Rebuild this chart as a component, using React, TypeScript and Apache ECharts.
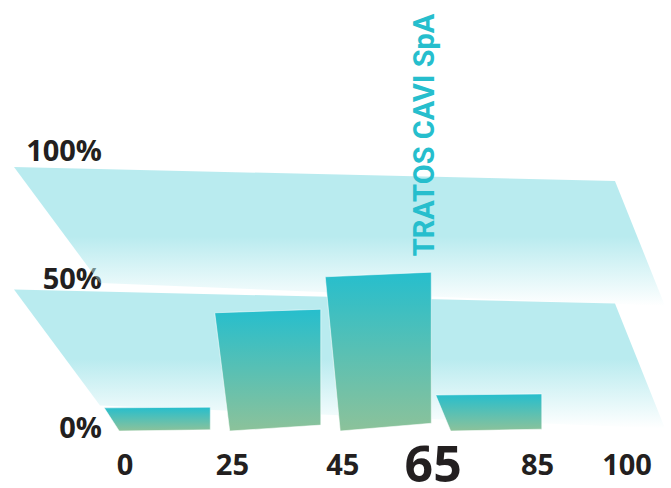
import React, { useEffect, useRef } from "react";
import * as echarts from "echarts";

// ---- data ----
const xTickLabels = ["0", "25", "45", "65", "85", "100"];
const highlightTick = "65";
const bandCategories = ["0–25", "25–45", "45–65", "65–85"];
const bandShares = [9, 46, 60, 14];
const planeLevels = [50, 100];
const highlightIndex = 2;
const highlightName = "TRATOS CAVI SpA";

const DARK = "#231F20";
const TEAL = "#26BECD";
const SAGE = "#8CC29A";
const PLANE = "#B9EBEF";
const LABEL_FONT = "'Open Sans', 'Noto Sans', sans-serif";

// label nudges (style only)
const xLabelStyle: Record<string, string> = {
  "0": "sl",
  "25": "sm",
  "45": "sr",
  "65": "big",
  "85": "sr2",
  "100": "sl",
};

export default function App() {
  const ref = useRef<HTMLDivElement>(null);

  useEffect(() => {
    document.body.style.margin = "0";
    document.body.style.overflow = "hidden";
    const chart = echarts.init(ref.current!, undefined, { renderer: "svg" });

    const base = { fontSize: 29, lineHeight: 29, fontWeight: "bold", fontFamily: LABEL_FONT, color: DARK };

    const option: any = {
      animation: false,
      backgroundColor: "#ffffff",
      grid: [
        { left: 132, right: 37, top: 167, bottom: 73 },
        { left: 101, right: 128, top: 174, bottom: 57 },
      ],
      xAxis: [
        {
          gridIndex: 0,
          type: "category",
          data: xTickLabels,
          boundaryGap: false,
          axisLine: { show: false },
          axisTick: { show: false },
          splitLine: { show: false },
          axisLabel: {
            interval: 0,
            margin: 51,
            verticalAlign: "middle",
            formatter: (v: string) => `{${xLabelStyle[v] || "sm"}|${v}}`,
            rich: {
              sm: { ...base },
              sl: { ...base, padding: [0, 14, 0, 0] },
              sr: { ...base, padding: [0, 0, 0, 20] },
              sr2: { ...base, padding: [0, 0, 0, 8] },
              big: { ...base, fontSize: 50, lineHeight: 40 },
            },
          },
        },
        {
          gridIndex: 1,
          type: "category",
          data: bandCategories,
          show: false,
        },
      ],
      yAxis: [
        {
          gridIndex: 0,
          type: "value",
          min: 0,
          max: 100,
          interval: 50,
          axisLine: { show: false },
          axisTick: { show: false },
          splitLine: { show: false },
          axisLabel: {
            margin: 30,
            verticalAlign: "middle",
            formatter: (v: number) => `{y${v}|${v}%}`,
            rich: {
              y100: { ...base, padding: [0, 0, 36, 0] },
              y50: { ...base, padding: [0, 0, 24, 0] },
              y0: { ...base, padding: [28, 0, 0, 0] },
            },
          },
        },
        {
          gridIndex: 1,
          type: "value",
          min: 0,
          max: 100,
          show: false,
        },
      ],
      series: [
        {
          type: "custom",
          name: "planes",
          xAxisIndex: 0,
          yAxisIndex: 0,
          silent: true,
          clip: false,
          z: 1,
          encode: { x: 0, y: 1 },
          data: planeLevels.map((v) => [0, v]),
          renderItem: (params: any, api: any) => {
            const cs = params.coordSys;
            const y = api.coord([0, api.value(1)])[1];
            const pts = [
              [cs.x - 118, y],
              [cs.x + cs.width - 19, y + 14],
              [cs.x + cs.width + 31, y + 139],
              [cs.x - 32, y + 116],
            ];
            return {
              type: "polygon",
              shape: { points: pts },
              style: {
                fill: new echarts.graphic.LinearGradient(0, 0, 0, 1, [
                  { offset: 0, color: PLANE },
                  { offset: 0.5, color: PLANE },
                  { offset: 1, color: "rgba(185,235,239,0)" },
                ]),
              },
            };
          },
        },
        {
          type: "custom",
          name: "shares",
          xAxisIndex: 1,
          yAxisIndex: 1,
          silent: true,
          clip: false,
          z: 2,
          encode: { x: 0, y: 1 },
          data: bandShares.map((v, i) => [i, v]),
          renderItem: (params: any, api: any) => {
            const i = api.value(0);
            const top = api.coord([i, api.value(1)]);
            const bottom = api.coord([i, 0]);
            const w = api.size([1, 0])[0] * 0.96;
            const cx = top[0] + 1;
            const yTop = top[1];
            const y0 = bottom[1];
            const h = y0 - yTop;
            const tilt = h * 0.03;
            const raise = h * 0.05;
            const tr = [cx + w / 2, yTop - tilt];
            const pts = [
              [cx - w / 2, yTop],
              tr,
              [cx + w / 2, y0 - raise],
              [cx - w / 2 + 15, y0],
            ];
            const children: any[] = [
              {
                type: "polygon",
                shape: { points: pts },
                style: {
                  fill: new echarts.graphic.LinearGradient(0, 0, 0, 1, [
                    { offset: 0, color: TEAL },
                    { offset: 1, color: SAGE },
                  ]),
                  stroke: "rgba(255,255,255,0.55)",
                  lineWidth: 1,
                },
              },
            ];
            if (params.dataIndex === highlightIndex) {
              children.push({
                type: "text",
                x: tr[0] - 7,
                y: tr[1] - 16,
                rotation: Math.PI / 2,
                style: {
                  text: highlightName,
                  fill: TEAL,
                  fontSize: 29,
                  fontWeight: "bold",
                  fontFamily: "Roboto, 'Noto Sans', sans-serif",
                  align: "left",
                  verticalAlign: "middle",
                },
              });
            }
            return { type: "group", children };
          },
        },
      ],
    };

    chart.setOption(option);
    return () => chart.dispose();
  }, []);

  return <div ref={ref} style={{ width: 671, height: 488 }} />;
}
